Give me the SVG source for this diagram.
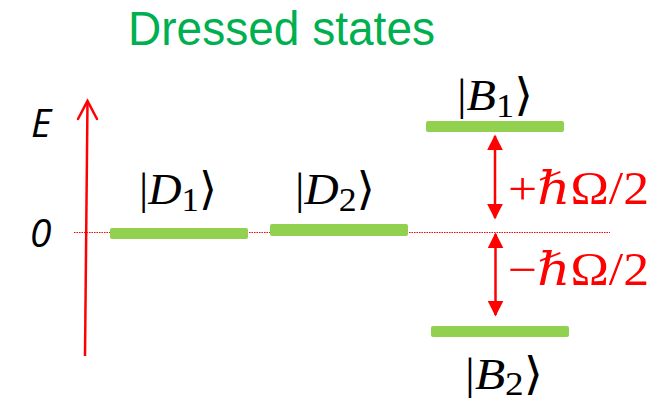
<svg xmlns="http://www.w3.org/2000/svg" width="668" height="403" viewBox="0 0 668 403">
<style>
.bar{fill:#92D050}
.ket{font-family:"Liberation Serif","DejaVu Serif",serif;font-size:45px;fill:#000}
.it{font-style:italic}
.lbl{font-family:"Liberation Serif","DejaVu Serif",serif;font-size:46px;fill:#FF0000}
.axl{font-family:"Open Sans","Liberation Sans",sans-serif;font-style:italic;font-size:39px;fill:#000}
.arr{stroke:#FF0000;stroke-width:2.5;fill:none}
</style>
<defs>
<marker id="tri" viewBox="0 0 10 10" refX="9" refY="5" markerWidth="6.4" markerHeight="6.4" markerUnits="strokeWidth" orient="auto-start-reverse">
<path d="M0,0 L10,5 L0,10 Z" fill="#FF0000"/>
</marker>
</defs>
<text x="128" y="45" font-family="'Liberation Sans',Arial,sans-serif" font-size="48" fill="#00B050" textLength="307" lengthAdjust="spacingAndGlyphs">Dressed states</text>
<g id="axis">
<line class="arr" x1="85" y1="356" x2="87.5" y2="101"/>
<polyline class="arr" points="78,119 87.5,101 97,119" stroke-linecap="round"/>
<text class="axl" x="31" y="137">E</text>
<text class="axl" x="30" y="247">0</text>
</g>
<g id="connectors">
<line x1="74" y1="232.5" x2="610" y2="232.5" stroke="#FF0000" stroke-width="1" stroke-dasharray="1.5,1"/>
<line class="arr" x1="495" y1="136" x2="495" y2="218" marker-start="url(#tri)" marker-end="url(#tri)"/>
<line class="arr" x1="495.5" y1="234" x2="495.5" y2="315" marker-start="url(#tri)" marker-end="url(#tri)"/>
</g>
<g id="D1">
<rect class="bar" x="110" y="228" width="138" height="11" rx="2"/>
<text class="ket" x="139" y="204" textLength="78" lengthAdjust="spacingAndGlyphs">|<tspan class="it">D</tspan><tspan font-size="34" dy="7">1</tspan><tspan dy="-7">⟩</tspan></text>
</g>
<g id="D2">
<rect class="bar" x="270" y="224" width="138" height="12" rx="2"/>
<text class="ket" x="295" y="204" textLength="80" lengthAdjust="spacingAndGlyphs">|<tspan class="it">D</tspan><tspan font-size="34" dy="7">2</tspan><tspan dy="-7">⟩</tspan></text>
</g>
<g id="B1">
<rect class="bar" x="426" y="121" width="138" height="11" rx="2"/>
<text class="ket" x="457" y="110" textLength="76" lengthAdjust="spacingAndGlyphs">|<tspan class="it">B</tspan><tspan font-size="34" dy="7">1</tspan><tspan dy="-7">⟩</tspan></text>
</g>
<g id="B2">
<rect class="bar" x="431" y="326" width="138" height="11" rx="2"/>
<text class="ket" x="465" y="389" textLength="78" lengthAdjust="spacingAndGlyphs">|<tspan class="it">B</tspan><tspan font-size="34" dy="6">2</tspan><tspan dy="-6">⟩</tspan></text>
</g>
<text class="lbl" x="508" y="204" textLength="141" lengthAdjust="spacingAndGlyphs">+<tspan class="it">ℏ</tspan>Ω/2</text>
<text class="lbl" x="508" y="285" textLength="141" lengthAdjust="spacingAndGlyphs">−<tspan class="it">ℏ</tspan>Ω/2</text>
</svg>
